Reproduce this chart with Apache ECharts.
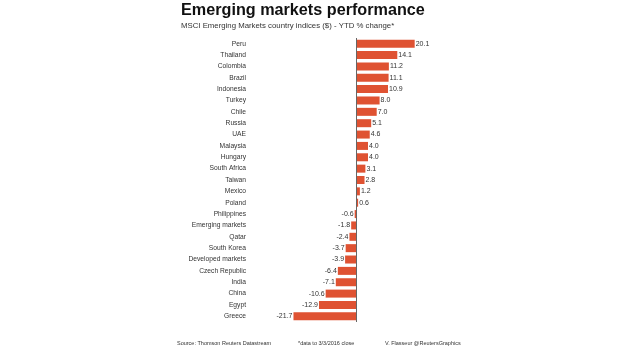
<!DOCTYPE html>
<html>
<head>
<meta charset="utf-8">
<script src="https://cdn.jsdelivr.net/npm/echarts@6/dist/echarts.min.js"></script>
<style>
  html, body { margin: 0; padding: 0; background: #fff; }
  #main { width: 620px; height: 354px; }
</style>
</head>
<body>
<div id="main"></div>
<script>
// countries, top to bottom
var countries = ['Peru', 'Thailand', 'Colombia', 'Brazil', 'Indonesia', 'Turkey', 'Chile', 'Russia', 'UAE',
  'Malaysia', 'Hungary', 'South Africa', 'Taiwan', 'Mexico', 'Poland', 'Philippines', 'Emerging markets',
  'Qatar', 'South Korea', 'Developed markets', 'Czech Republic', 'India', 'China', 'Egypt', 'Greece'];
// YTD % change
var ytdChange = [20.1, 14.1, 11.2, 11.1, 10.9, 8.0, 7.0, 5.1, 4.6,
  4.0, 4.0, 3.1, 2.8, 1.2, 0.6, -0.6, -1.8,
  -2.4, -3.7, -3.9, -6.4, -7.1, -10.6, -12.9, -21.7];

var txt = '#333';
var fam = '"Liberation Sans", Arial, sans-serif';

var myChart = echarts.init(document.getElementById('main'));

var option = {
    backgroundColor: '#fff',
    animation: false,
    title: [
        {
            text: 'Emerging markets performance',
            left: 181, top: 3, padding: 0,
            textStyle: { fontSize: 16.2, fontWeight: 'bold', color: '#111', fontFamily: fam }
        },
        {
            text: 'MSCI Emerging Markets country indices ($) - YTD % change*',
            left: 181, top: 22, padding: 0,
            textStyle: { fontSize: 7.8, fontWeight: 'normal', color: txt, fontFamily: fam }
        },
        {
            text: 'Source: Thomson Reuters Datastream',
            left: 177, top: 340, padding: 0,
            textStyle: { fontSize: 5.5, fontWeight: 'normal', color: txt, fontFamily: fam }
        },
        {
            text: '*data to 3/3/2016 close',
            left: 298, top: 340, padding: 0,
            textStyle: { fontSize: 5.5, fontWeight: 'normal', color: txt, fontFamily: fam }
        },
        {
            text: 'V. Flasseur @ReutersGraphics',
            left: 385, top: 340, padding: 0,
            textStyle: { fontSize: 5.5, fontWeight: 'normal', color: txt, fontFamily: fam }
        }
    ],
    grid: { left: 252, top: 38, width: 191.4, height: 284 },
    xAxis: {
        type: 'value',
        min: -36, max: 30,
        show: false
    },
    yAxis: {
        type: 'category',
        data: countries,
        inverse: true,
        axisLine: { show: false },
        axisTick: { show: false },
        axisLabel: { margin: 6, fontSize: 6.7, color: txt, fontFamily: fam }
    },
    series: [{
        type: 'bar',
        data: ytdChange,
        barWidth: 8,
        itemStyle: { color: '#df5232' },
        label: {
            show: true,
            position: 'right',
            distance: 1,
            fontSize: 7,
            color: txt,
            fontFamily: fam,
            formatter: function (p) { return p.value.toFixed(1); }
        },
        markLine: {
            silent: true,
            symbol: 'none',
            label: { show: false },
            lineStyle: { color: '#666', width: 1, type: 'solid' },
            data: [{ xAxis: 0 }]
        }
    }]
};

// negative bars get their labels on the left
option.series[0].data = ytdChange.map(function (v) {
    return v < 0 ? { value: v, label: { position: 'left' } } : v;
});

myChart.setOption(option);
</script>
</body>
</html>
